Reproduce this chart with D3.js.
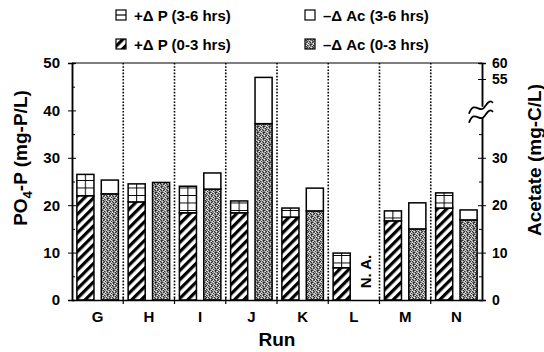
<!DOCTYPE html>
<html lang="en">
<head>
<meta charset="UTF-8">
<title>PO4 release and acetate uptake</title>
<script src="https://d3js.org/d3.v7.min.js"></script>
<style>
  body { margin: 0; background: #fff; }
  svg text { font-family: "Liberation Sans", Arial, sans-serif; font-weight: bold; fill: #000; }
</style>
</head>
<body>
<script>
// data
const runs = ["G", "H", "I", "J", "K", "L", "M", "N"];
const p03 = [22.0, 20.7, 18.4, 18.4, 17.5, 6.8, 16.7, 19.4];   // +dP 0-3 hrs (mg-P/L)
const p36 = [4.5, 3.8, 5.6, 2.5, 1.9, 3.1, 2.1, 3.2];          // +dP 3-6 hrs
const ac03 = [22.4, 24.8, 23.4, 37.2, 18.8, null, 15.0, 16.9]; // -dAc 0-3 hrs (mg-C/L)
const ac36 = [2.9, 0, 3.4, 18.3, 4.8, null, 5.5, 2.1];         // -dAc 3-6 hrs
const leftTicks = [0, 10, 20, 30, 40, 50];
const leftMinor = [5, 15, 25, 35, 45];
const rightTicks = [0, 10, 20, 30, 55, 60];
const rightMinor = [5, 15, 25, 35];

const W = 544, H = 352;
const svg = d3.select("body").append("svg").attr("width", W).attr("height", H);

const x = d3.scaleBand().domain(runs).range([72, 482]);
const xs = d3.scaleBand().domain(["P", "Ac"]).range([0, x.bandwidth()])
  .paddingInner(0.3).paddingOuter(0.2);
const yL = d3.scaleLinear().domain([0, 50]).range([300, 63]);
// broken right axis: linear up to the break, compressed above it
const yR = d3.scaleLinear().domain([0, 39.5, 50, 60]).range([300, yL(39.5), 95, 63]);

// patterns
const defs = svg.append("defs");
const hatch = defs.append("pattern").attr("id", "hatch")
  .attr("patternUnits", "userSpaceOnUse").attr("width", 6.6).attr("height", 6.6)
  .attr("patternTransform", "rotate(45)");
hatch.append("rect").attr("width", 6.6).attr("height", 6.6).attr("fill", "#fff");
hatch.append("rect").attr("width", 3.2).attr("height", 6.6).attr("fill", "#000");

// stipple texture: fixed 6x6 tile of grey levels
const stipTile = [
  "dmlwmd",
  "lwdmld",
  "mdlmwm",
  "wmdldl",
  "ldmwmd",
  "mlwdlm"
];
const shade = { d: "#2e2e2e", m: "#7c7c7c", l: "#b4b4b4", w: "#e6e6e6" };
const stip = defs.append("pattern").attr("id", "stip")
  .attr("patternUnits", "userSpaceOnUse").attr("width", 6).attr("height", 6);
stipTile.forEach((row, j) => row.split("").forEach((c, i) =>
  stip.append("rect").attr("x", i).attr("y", j).attr("width", 1).attr("height", 1)
    .attr("fill", shade[c]).attr("shape-rendering", "crispEdges")));

const grid = defs.append("pattern").attr("id", "grid")
  .attr("patternUnits", "userSpaceOnUse").attr("x", 72).attr("y", 0)
  .attr("width", x.bandwidth()).attr("height", 7.5);
grid.append("rect").attr("width", x.bandwidth()).attr("height", 7.5).attr("fill", "#fff");
grid.append("line").attr("x1", 0).attr("x2", x.bandwidth()).attr("y1", 0.5).attr("y2", 0.5)
  .attr("stroke", "#000").attr("stroke-width", 1);
grid.append("line").attr("x1", xs("P") + xs.bandwidth() / 2).attr("x2", xs("P") + xs.bandwidth() / 2)
  .attr("y1", 0).attr("y2", 7.5).attr("stroke", "#000").attr("stroke-width", 1);

// frame top + dotted separators
svg.append("line").attr("x1", 72).attr("x2", 482).attr("y1", yL(50)).attr("y2", yL(50))
  .attr("stroke", "#000").attr("stroke-width", 1);
svg.selectAll(".sep").data(runs.slice(1)).enter().append("line")
  .attr("x1", d => x(d)).attr("x2", d => x(d))
  .attr("y1", yL(50)).attr("y2", yL(0))
  .attr("stroke", "#000").attr("stroke-width", 1.6).attr("stroke-dasharray", "1.6,1.6");

// bars
const bars = svg.append("g").attr("stroke", "#000").attr("stroke-width", 1.5);
runs.forEach((r, i) => {
  const xp = x(r) + xs("P"), xa = x(r) + xs("Ac"), bw = xs.bandwidth();
  bars.append("rect").attr("x", xp).attr("width", bw)
    .attr("y", yL(p03[i])).attr("height", yL(0) - yL(p03[i])).attr("fill", "url(#hatch)");
  bars.append("rect").attr("x", xp).attr("width", bw)
    .attr("y", yL(p03[i] + p36[i])).attr("height", yL(p03[i]) - yL(p03[i] + p36[i])).attr("fill", "url(#grid)");
  if (ac03[i] != null) {
    bars.append("rect").attr("x", xa).attr("width", bw)
      .attr("y", yR(ac03[i])).attr("height", yR(0) - yR(ac03[i])).attr("fill", "url(#stip)");
    if (ac36[i] > 0)
      bars.append("rect").attr("x", xa).attr("width", bw)
        .attr("y", yR(ac03[i] + ac36[i])).attr("height", yR(ac03[i]) - yR(ac03[i] + ac36[i])).attr("fill", "#fff");
  } else {
    svg.append("text").attr("transform", `translate(${xa + bw / 2 + 5},${yL(6)}) rotate(-90)`)
      .attr("text-anchor", "middle").attr("font-size", 15).text("N. A.");
  }
});

// left axis
const gL = svg.append("g").attr("transform", "translate(72,0)");
gL.call(d3.axisLeft(yL).tickValues(leftTicks).tickSize(4).tickPadding(8));
gL.selectAll(".tick line").attr("x1", 4);
gL.append("g").call(d3.axisRight(yL).tickValues(leftMinor).tickSize(3).tickFormat(""));
gL.selectAll("path.domain").attr("stroke-width", 1.5);
gL.selectAll(".tick text").attr("font-size", 15).attr("font-family", "Liberation Sans, Arial, sans-serif").attr("font-weight", "bold");

// right axis
const gR = svg.append("g").attr("transform", "translate(482,0)");
gR.call(d3.axisRight(yR).tickValues(rightTicks).tickSize(4).tickPadding(6));
gR.selectAll(".tick line").attr("x1", -4);
gR.append("g").call(d3.axisLeft(yR).tickValues(rightMinor).tickSize(3).tickFormat(""));
gR.selectAll("path.domain").attr("stroke-width", 1.5);
gR.selectAll(".tick text").attr("font-size", 14).attr("font-family", "Liberation Sans, Arial, sans-serif").attr("font-weight", "bold");

// break mark on right axis
const brk = svg.append("g").attr("transform", `translate(481,${yR(39.5)})`);
brk.append("rect").attr("x", -12).attr("y", -6).attr("width", 24).attr("height", 11).attr("fill", "#fff");
[-5, 4].forEach(dy => {
  brk.append("path")
    .attr("d", `M-12,${dy + 6} C-7,${dy - 8} -1,${dy + 6} 3,${dy} S9,${dy - 8} 12,${dy - 5}`)
    .attr("fill", "none").attr("stroke", "#000").attr("stroke-width", 1.8);
});

// bottom axis
const gB = svg.append("g").attr("transform", `translate(0,${yL(0)})`);
gB.call(d3.axisBottom(x).tickSize(0).tickPadding(11));
gB.selectAll("path.domain").attr("stroke-width", 1.5);
gB.selectAll(".tick text").attr("font-size", 15).attr("font-family", "Liberation Sans, Arial, sans-serif").attr("font-weight", "bold");
gB.selectAll(".sept").data(runs.slice(1)).enter().append("line")
  .attr("x1", d => x(d)).attr("x2", d => x(d)).attr("y1", -3).attr("y2", 4)
  .attr("stroke", "#000").attr("stroke-width", 1.2);

// axis titles
svg.append("text").attr("x", 277).attr("y", 346).attr("text-anchor", "middle")
  .attr("font-size", 19).text("Run");
const lt = svg.append("text").attr("transform", "translate(27,158) rotate(-90)")
  .attr("text-anchor", "middle").attr("font-size", 19);
lt.append("tspan").text("PO");
lt.append("tspan").attr("font-size", 13).attr("dy", 5).text("4");
lt.append("tspan").attr("dy", -5).text("-P (mg-P/L)");
svg.append("text").attr("transform", "translate(541,160) rotate(-90)")
  .attr("text-anchor", "middle").attr("font-size", 19).text("Acetate (mg-C/L)");

// legend
const legend = [
  { label: "+\u0394 P (3-6 hrs)", fill: "#fff", mid: true, x: 116, y: 15 },
  { label: "+\u0394 P (0-3 hrs)", fill: "url(#hatch)", x: 116, y: 44 },
  { label: "\u2013\u0394 Ac (3-6 hrs)", fill: "#fff", x: 305, y: 15 },
  { label: "\u2013\u0394 Ac (0-3 hrs)", fill: "url(#stip)", x: 305, y: 44 }
];
const lg = svg.selectAll(".lg").data(legend).enter().append("g")
  .attr("transform", d => `translate(${d.x},${d.y})`);
lg.append("rect").attr("x", 0).attr("y", -5).attr("width", 10).attr("height", 10)
  .attr("fill", d => d.fill).attr("stroke", "#000").attr("stroke-width", 1.2);
lg.filter(d => d.mid).append("line").attr("x1", 0).attr("x2", 10).attr("y1", 0).attr("y2", 0)
  .attr("stroke", "#000").attr("stroke-width", 1.2);
lg.append("text").attr("x", 18).attr("y", 5.5).attr("font-size", 15).text(d => d.label);
</script>
</body>
</html>
